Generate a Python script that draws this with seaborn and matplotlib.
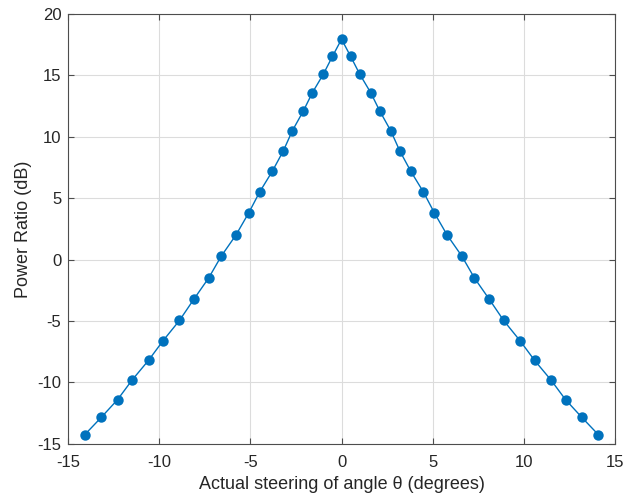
import matplotlib
matplotlib.use("Agg")
import matplotlib.pyplot as plt
import seaborn as sns
import pandas as pd

# Steering angle (degrees) and measured power ratio (dB)
angle_right = [0.5, 1.0, 1.6, 2.1, 2.7, 3.2, 3.8, 4.5, 5.1, 5.8,
               6.6, 7.3, 8.1, 8.9, 9.8, 10.6, 11.5, 12.3, 13.2, 14.1]
power_right = [16.55, 15.1, 13.6, 12.1, 10.5, 8.85, 7.2, 5.5, 3.8, 2.0,
               0.3, -1.5, -3.2, -4.95, -6.6, -8.2, -9.8, -11.4, -12.85, -14.25]
peak_angle = 0.0
peak_power = 17.95

angles = [-a for a in angle_right[::-1]] + [peak_angle] + angle_right
powers = power_right[::-1] + [peak_power] + power_right

x_ticks = [-15, -10, -5, 0, 5, 10, 15]
y_ticks = [-15, -10, -5, 0, 5, 10, 15, 20]

df = pd.DataFrame({"angle": angles, "power": powers})

sns.set_style("white")
plt.rcParams["font.family"] = ["Liberation Sans", "DejaVu Sans"]

fig = plt.figure(figsize=(6.39, 5.01), dpi=100)
ax = fig.add_axes([0.107, 0.114, 0.855, 0.858])

blue = "#0072BD"
sns.lineplot(data=df, x="angle", y="power", ax=ax, color=blue, linewidth=1.0,
             marker="o", markersize=7.5, markeredgewidth=0, markerfacecolor=blue,
             sort=False, estimator=None)

ax.set_xlim(-15, 15)
ax.set_ylim(-15, 20)
ax.set_xticks(x_ticks)
ax.set_yticks(y_ticks)
ax.set_xticklabels([str(t) for t in x_ticks])
ax.set_yticklabels([str(t) for t in y_ticks])

ax.grid(True, color="#dcdcdc", linewidth=0.8)
ax.set_axisbelow(True)
for s in ax.spines.values():
    s.set_visible(True)
    s.set_color("#4d4d4d")
    s.set_linewidth(0.8)

ax.tick_params(axis="both", which="both", direction="in", length=4, width=0.8,
               color="#4d4d4d", labelsize=12, labelcolor="#262626",
               top=True, right=True, bottom=True, left=True)
ax.tick_params(axis="x", pad=8)
ax.tick_params(axis="y", pad=5)

ax.set_xlabel("Actual steering of angle θ (degrees)", fontsize=13, color="#262626", labelpad=4)
ax.set_ylabel("Power Ratio (dB)", fontsize=13, color="#262626", labelpad=4)

fig.savefig("out.png", dpi=100)
